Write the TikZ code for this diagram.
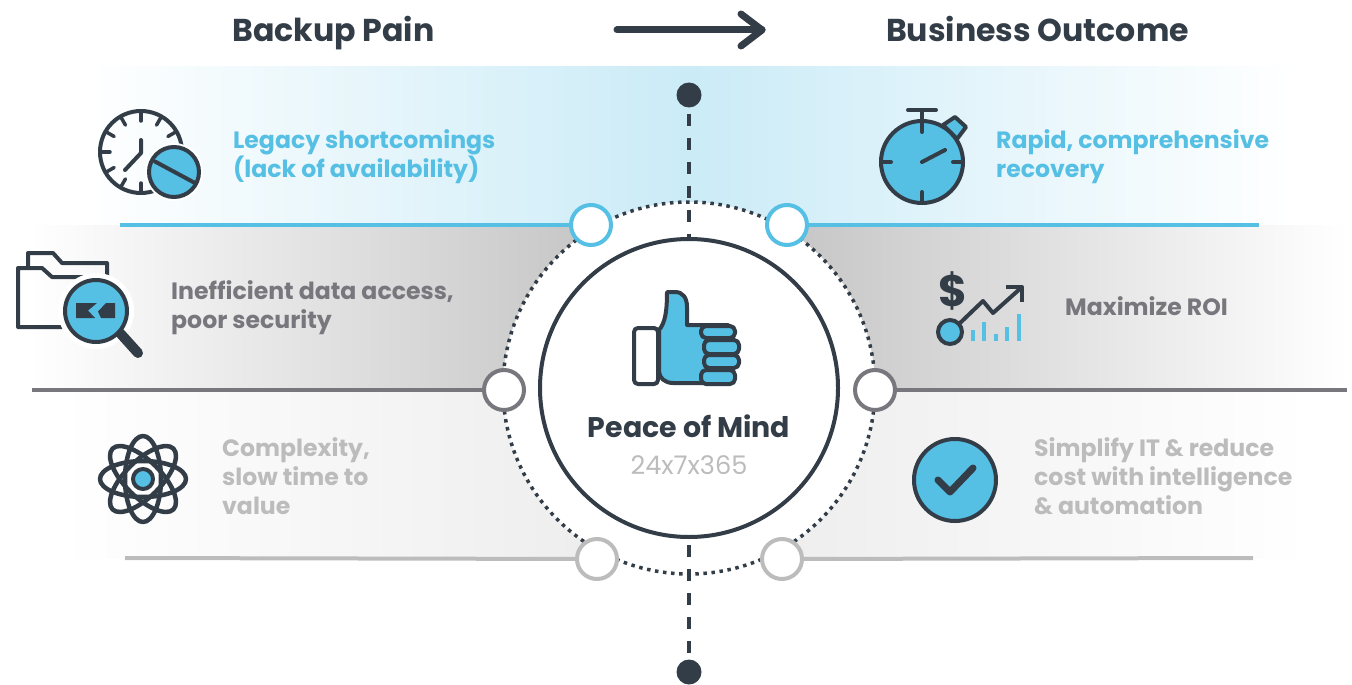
\documentclass[tikz,border=0pt]{standalone}
\usepackage{fontspec}
\setmainfont{Poppins}
\definecolor{cy}{HTML}{56BFE4}
\definecolor{dk}{HTML}{333D47}
\definecolor{gm}{HTML}{77777D}
\definecolor{gl}{HTML}{BCBCBC}
\tikzset{
 lab/.style={anchor=west,align=left,font=\bfseries\fontsize{23.6}{29}\selectfont,inner sep=0pt},
 head/.style={anchor=base,font=\bfseries\fontsize{31.6}{34}\selectfont,text=dk,inner sep=0pt},
 hub/.style={circle,draw,fill=white,line width=4pt,minimum size=40pt,inner sep=0pt},
 ic/.style={draw=dk,line width=4pt,line cap=round,line join=round},
 icb/.style={ic,fill=cy},
 tick/.style={ic,line width=3.5pt},
 endd/.style={circle,fill=dk,minimum size=25pt,inner sep=0pt},
 vdash/.style={dk,line width=4pt,dash pattern=on 12pt off 12pt,dash phase=18pt},
}
\begin{document}
\begin{tikzpicture}[x=1pt,y=-1pt]
\useasboundingbox (0,0) rectangle (1352,685);
% bands
\shade[left color=white,right color=white,middle color=cy!31] (85,67) rectangle (1293,225);
\shade[left color=white,right color=gray!43] (30,225) rectangle (570,390);
\fill[gray!43] (569.5,225) rectangle (810.5,390);
\shade[left color=gray!43,right color=white] (810,225) rectangle (1347,390);
\shade[left color=white,right color=white,middle color=gray!16] (60,390) rectangle (1310,558);
% node skeleton
\coordinate (c) at (689,388);
\node[hub,draw=none,fill=none] (h1) at (591,225) {};
\node[hub,draw=none,fill=none] (h2) at (787,225) {};
\node[hub,draw=none,fill=none] (h3) at (504,390) {};
\node[hub,draw=none,fill=none] (h4) at (875,390) {};
\node[hub,draw=none,fill=none] (h5) at (597,559) {};
\node[hub,draw=none,fill=none] (h6) at (782,559) {};
\coordinate (l1a) at (120,225); \coordinate (l1b) at (1259,225);
\coordinate (l2a) at (32,390);  \coordinate (l2b) at (1347,390);
\coordinate (l3a) at (125,558); \coordinate (l3b) at (1253,558);
\draw[cy,line width=4pt] (l1a) -- (h1);
\draw[cy,line width=4pt] (h2) -- (l1b);
\draw[gm,line width=4pt] (l2a) -- (h3);
\draw[gm,line width=4pt] (h4) -- (l2b);
\draw[gl,line width=4pt] (l3a) -- (h5);
\draw[gl,line width=4pt] (h6) -- (l3b);
% centre
\fill[white] (c) circle (186pt);
\draw[dk,line width=3.5pt,dash pattern=on 3.5pt off 4.6pt] (c) circle (186pt);
\node[endd] (top) at (689,95) {};
\node[endd] (bot) at (689,672) {};
\node[circle,draw=dk,fill=white,line width=4pt,minimum size=298pt,inner sep=0pt] (core) at (c) {};
\draw[vdash] (top) -- (core);
\draw[vdash] (bot) -- (core);
\node[hub,draw=cy] at (h1) {};
\node[hub,draw=cy] at (h2) {};
\node[hub,draw=gm] at (h3) {};
\node[hub,draw=gm] at (h4) {};
\node[hub,draw=gl] at (h5) {};
\node[hub,draw=gl] at (h6) {};
% header
\node[head] (t1) at (333.5,41.7) {Backup Pain};
\node[head] (t2) at (1037.5,41.7) {Business Outcome};
\coordinate (a1) at (617,30); \coordinate (a2) at (762,30);
\draw[dk,line width=7pt,line cap=round,line join=round] (a1) -- (a2);
\draw[dk,line width=7pt,line cap=round,line join=round] (741,14) -- (a2) -- (741,46);
% labels
\node[lab,text=cy] (b1) at (233,157) {Legacy shortcomings\\(lack of availability)};
\node[lab,text=cy] (b2) at (996,157) {Rapid, comprehensive\\recovery};
\node[lab,text=gm] (b3) at (171,308) {Inefficient data access,\\poor security};
\node[lab,text=gm] (b4) at (1065,306) {Maximize ROI};
\node[lab,text=gl] (b5) at (222,476) {Complexity,\\slow time to\\value};
\node[lab,text=gl] (b6) at (1034,476) {Simplify IT \& reduce\\cost with intelligence\\\& automation};
\node[font=\bfseries\fontsize{28.4}{30}\selectfont,text=dk,inner sep=0pt,anchor=base] (pm) at (689,437) {Peace of Mind};
\node[font=\fontsize{25.6}{28}\selectfont,text=gl,inner sep=0pt,anchor=base] (pm2) at (689,474) {24x7x365};
% clock
\draw[ic] (141,152) circle (41pt);
\foreach \a in {0,30,...,330}{\draw[tick] (141,152) ++(\a:41pt) -- ++(\a+180:10pt);}
\draw[ic] (141,140) -- (141,153) -- (125,170);
\fill[white] (174,172) circle (29pt);
\draw[icb] (174,172) circle (25pt);
\draw[ic] (155,161.5) -- (195,183);
% stopwatch
\draw[icb] (943,125) -- (955,117) -- (966,127) -- (957,139) -- cycle;
\draw[icb] (922,162) circle (41pt);
\draw[ic] (908,110) -- (936,110);
\draw[ic] (922,110) -- (922,132);
\draw[ic] (922,192) -- (922,203);
\draw[ic] (881,162) -- (891,162);
\draw[ic] (953,162) -- (963,162);
\draw[ic] (922,162) -- (945,150);
% folder
\draw[ic,line cap=butt] (28,267) -- (28,253) -- (53,253) -- (62,263) -- (107,263) -- (107,277);
\draw[ic,line cap=butt] (63,327) -- (18,327) -- (18,268) -- (42,268) -- (52,277) -- (90,277);
\fill[white] (96,311) circle (38pt);
\draw[dk,line width=10pt,line cap=round] (120,333) -- (138,353);
\draw[icb] (96,311) circle (31pt);
\fill[dk] (76,303) -- (97,303) -- (88,310.5) -- (95,318) -- (76,318) -- cycle;
\fill[dk] (115,303) -- (106,303) -- (98,311.5) -- (101,318) -- (115,318) -- cycle;
% money
\node[font=\bfseries\fontsize{44}{46}\selectfont,text=dk,inner sep=0pt] (dol) at (953,291) {\$};
\draw[ic,line width=4pt,line cap=butt] (960,323) -- (983,301) -- (993,313) -- (1022,287);
\draw[ic,line cap=butt] (1006,287) -- (1022,287) -- (1022,302);
\draw[icb] (950,332) circle (12pt);
\foreach \x/\t in {973/330,984/322,996/334,1007/327,1019/314}{\fill[cy] (\x-2,\t) rectangle (\x+2,341);}
% atom
\foreach \r in {0,45,90,135}{\draw[ic,line width=4.5pt] (143,479) ellipse[x radius=43pt,y radius=18pt,rotate=\r];}
\fill[white] (143,479) circle (15pt);
\draw[icb] (143,479) circle (10pt);
% check
\draw[icb] (955,480) circle (41pt);
\draw[dk,line width=7pt,line cap=round,line join=round] (938,480) -- (950,492) -- (973,468);
% thumb
\draw[ic,fill=white,rounded corners=4pt] (658,328) -- (634,328) -- (634,384) -- (658,384) -- cycle;
\draw[icb] (659,330) .. controls (665,323) and (667,312) .. (667,292) -- (675,292) .. controls (683,292) and (687,298) .. (687,307) -- (687,325) -- (728,325) -- (728,383) -- (673,383) .. controls (665,383) and (659,378) .. (659,371) -- cycle;
\draw[icb,rounded corners=5pt] (701,326) rectangle (735,338);
\draw[icb,rounded corners=5pt] (704,340) rectangle (739,354);
\draw[icb,rounded corners=5pt] (704,355) rectangle (739,368);
\draw[icb,rounded corners=5pt] (701,370) rectangle (735,384);
\end{tikzpicture}
\end{document}
